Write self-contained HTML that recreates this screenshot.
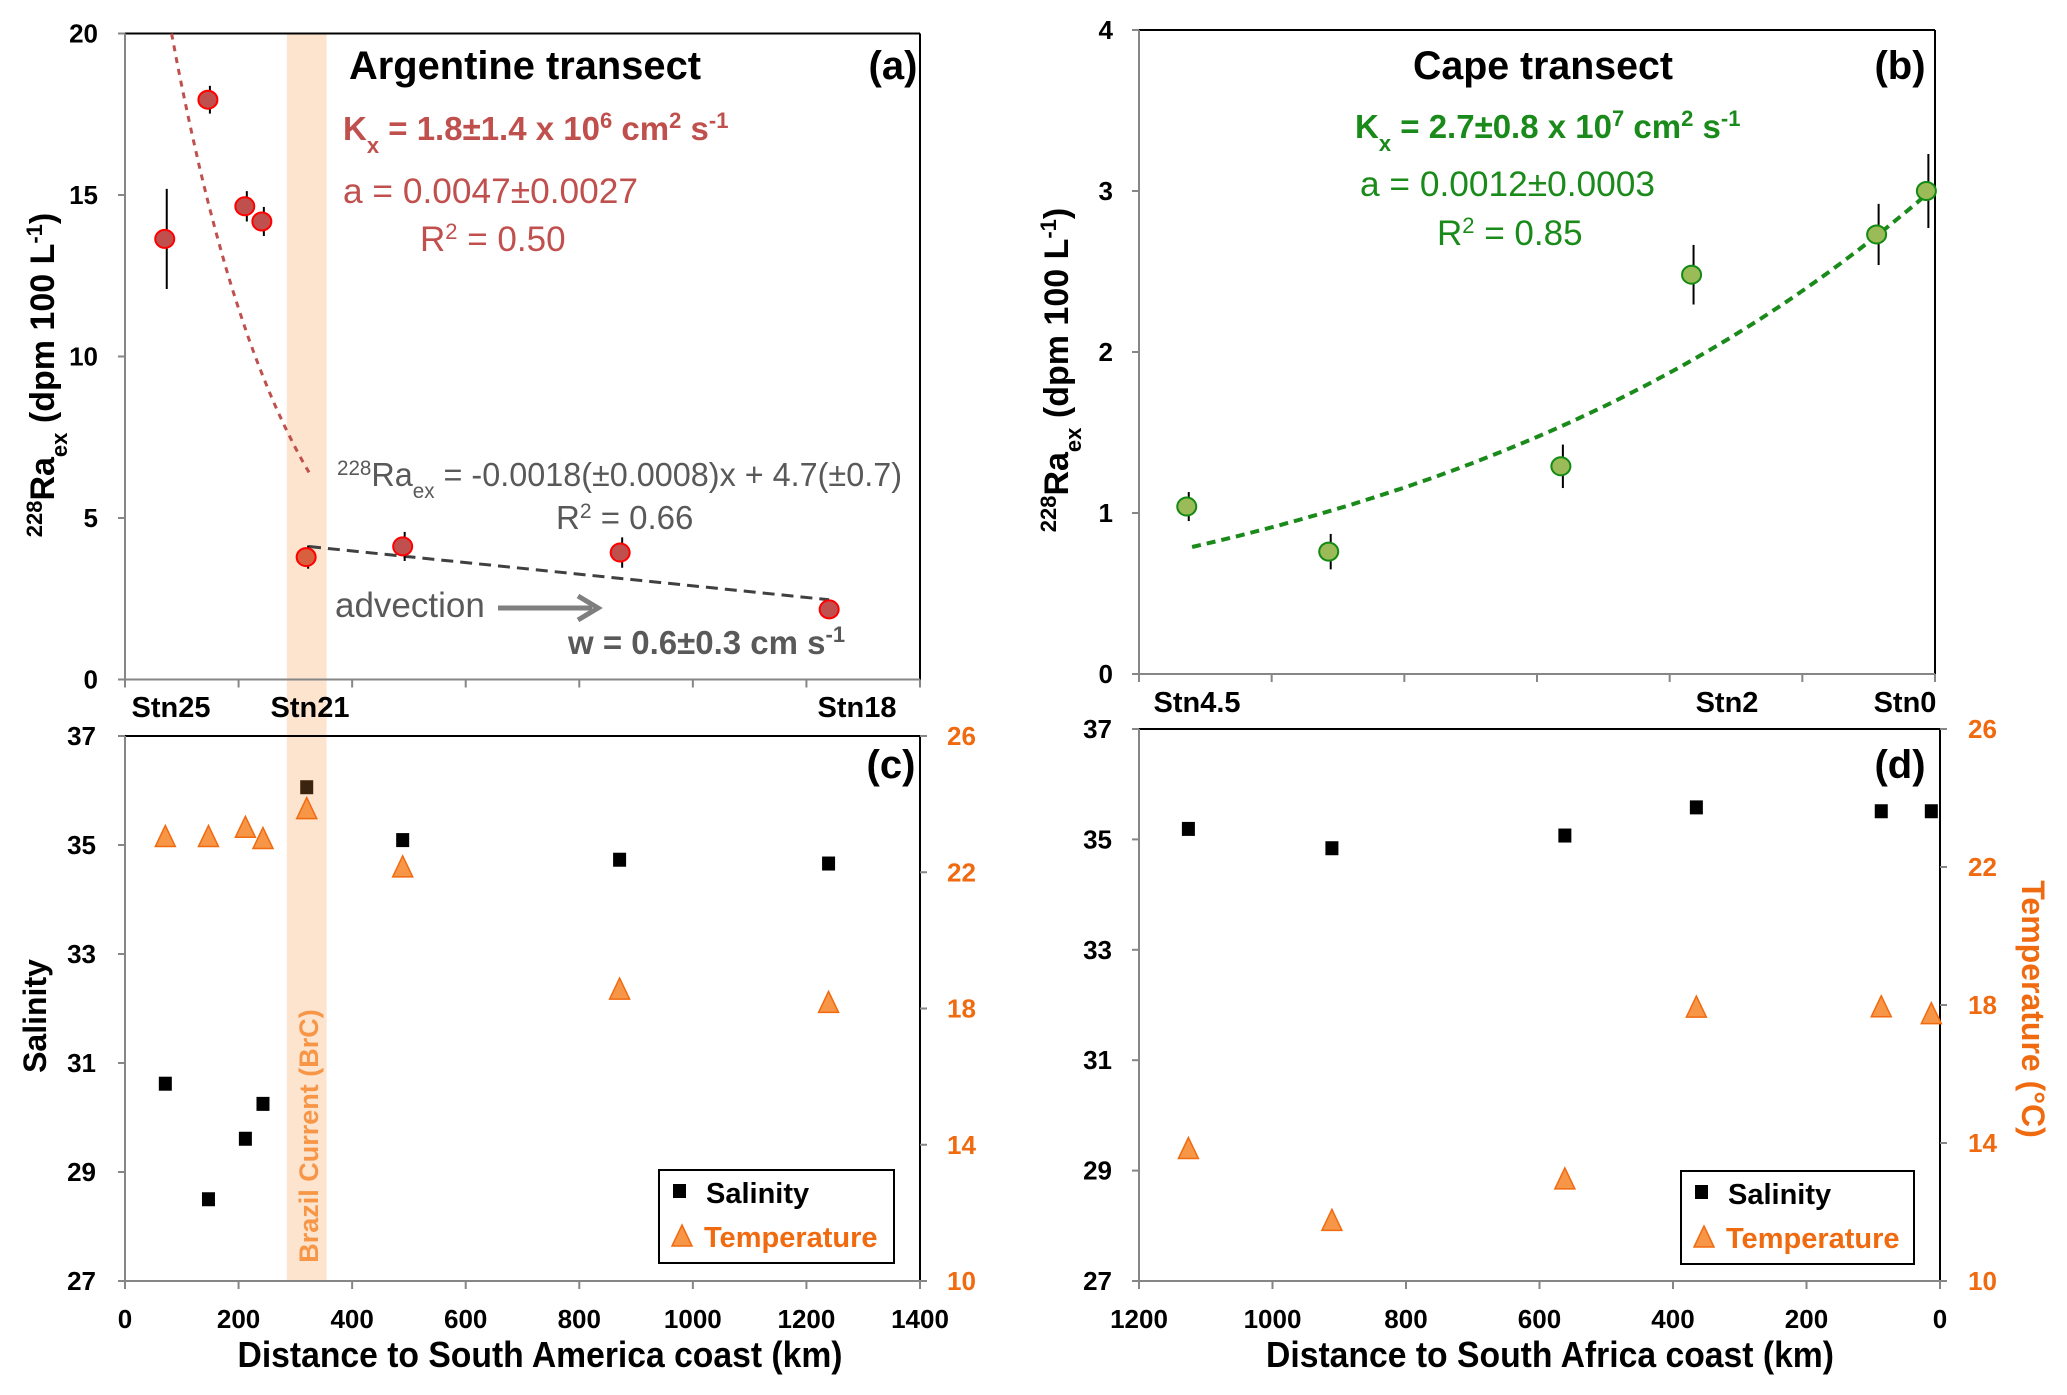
<!DOCTYPE html>
<html><head><meta charset="utf-8"><style>
body{margin:0;background:#fff}
svg text{font-family:"Liberation Sans Narrow","Liberation Sans",sans-serif}
.tk{font-size:26px;font-weight:bold;fill:#000}
.bt{font-family:"Liberation Sans",sans-serif !important;font-weight:bold}
</style></head><body>
<svg id="fig" width="2067" height="1390" viewBox="0 0 2067 1390" xmlns="http://www.w3.org/2000/svg">
<g id="g"></g>
</svg>
<script>
// ---- data ----
const aDist=[70,146,211,241,319,489,872,1240];
const aRa=[13.64,17.95,14.65,14.18,3.79,4.12,3.93,2.17];
const aErr=[1.55,0.43,0.47,0.45,0.36,0.45,0.47,0.15];
const aExpFit=[29.4,0.0047,82,324]; // A, a, xStart, xEnd
const aLinFit=[-0.0018,4.7,324,1240]; // slope, intercept, xStart, xEnd
const bDist=[1128,914,564,367,88,13];
const bRa=[1.04,0.76,1.29,2.48,2.73,3.00];
const bErr=[0.09,0.11,0.135,0.185,0.19,0.23];
const bExpFit=[3.025,0.0012,1120,7];
const cDist=[71,147,212,243,320,489,871,1239];
const cSal=[30.62,28.5,29.61,30.25,36.06,35.09,34.73,34.66];
const cTemp=[23.02,23.02,23.29,22.96,23.84,22.13,18.54,18.15];
const dDist=[1126,911,562,365,88,13];
const dSal=[35.19,34.84,35.07,35.58,35.51,35.51];
const dTemp=[13.81,11.73,12.93,17.91,17.92,17.72];
const raTicksA=[0,5,10,15,20];
const raTicksB=[0,1,2,3,4];
const salTicks=[27,29,31,33,35,37];
const tempTicks=[10,14,18,22,26];
const distTicksC=[0,200,400,600,800,1000,1200,1400];
const distTicksD=[1200,1000,800,600,400,200,0];

// ---- axes ----
const xa=k=>125+k/1400*795, ya=v=>679.5-v/20*646;
const xc=k=>125+k/1400*795, ysc=s=>1281-(s-27)/10*545, ytc=t=>1281-(t-10)/16*545;
const xb=k=>1935-k/1200*796, yb=v=>674-v/4*644;
const xd=k=>1940-k/1200*801, ysd=s=>1281-(s-27)/10*552, ytd=t=>1281-(t-10)/16*552;

const NS="http://www.w3.org/2000/svg";
const G=document.getElementById('g');
function el(tag,at,parent){const e=document.createElementNS(NS,tag);for(const k in at)e.setAttribute(k,at[k]);(parent||G).appendChild(e);return e;}
function txt(s,at,parent){const e=el('text',at,parent);e.innerHTML=s;return e;}

let band=el('rect',{x:xa(285),y:33,width:xa(355)-xa(285),height:1281-33,fill:'#fde4cf'});



function frame(l,t,r,b,name){
  let f=el('g',{});
  
  
  el('line',{x1:l,y1:t,x2:r,y2:t,stroke:'#000','stroke-width':2},f);
  el('line',{x1:r,y1:t,x2:r,y2:b,stroke:'#000','stroke-width':2},f);
  el('line',{x1:l,y1:t,x2:l,y2:b,stroke:'#868686','stroke-width':2},f);
  el('line',{x1:l,y1:b,x2:r,y2:b,stroke:'#868686','stroke-width':2},f);
}
frame(125,33.5,920,679.5,'panel-a-frame');
frame(1139,30,1935,674,'panel-b-frame');
frame(125,736,920,1281,'panel-c-frame');
frame(1139,729,1940,1281,'panel-d-frame');

function yTicks(vals,fy,xAxis,xLab,anchor,color,name,side){
  let g=el('g',{});
  
  
  vals.forEach(v=>{
    el('line',{x1:xAxis,y1:fy(v),x2:xAxis+(side<0?-7:7),y2:fy(v),stroke:'#868686','stroke-width':2},g);
    txt(String(v),{x:xLab,y:fy(v)+9,'text-anchor':anchor,class:'tk',style:'fill:'+color},g);
  });
}
yTicks(raTicksA,ya,125,98,'end','#000','y-ticks-a',-1);
yTicks(raTicksB,yb,1139,1113,'end','#000','y-ticks-b',-1);
yTicks(salTicks,ysc,125,96,'end','#000','salinity-ticks-c',-1);
yTicks(tempTicks,ytc,920,947,'start','#f06a10','temperature-ticks-c',1);
yTicks(salTicks,ysd,1139,1112,'end','#000','salinity-ticks-d',-1);
yTicks(tempTicks,ytd,1940,1968,'start','#f06a10','temperature-ticks-d',1);

function xTicks(vals,fx,yAxis,labels,name){
  let g=el('g',{});
  
  
  vals.forEach(v=>{
    el('line',{x1:fx(v),y1:yAxis,x2:fx(v),y2:yAxis+8,stroke:'#868686','stroke-width':2},g);
    if(labels) txt(String(v),{x:fx(v),y:yAxis+47,'text-anchor':'middle',class:'tk'},g);
  });
}
xTicks(distTicksC,xa,679.5,false,'x-ticks-a');
xTicks(distTicksD,xb,674,false,'x-ticks-b');
xTicks(distTicksC,xc,1281,true,'x-ticks-c');
xTicks(distTicksD,xd,1281,true,'x-ticks-d');

[['Stn25',171,706],['Stn21',310,706],['Stn18',857,706],['Stn4.5',1197,701],['Stn2',1727,701],['Stn0',1905,701]].forEach(s=>{
  let t=txt(s[0],{x:s[1],y:s[2]+11,'text-anchor':'middle',class:'tk',style:'font-size:29px'});
  
  
});

function expPath(p,fx,fy){let d='';const n=60;for(let i=0;i<=n;i++){const k=p[2]+(p[3]-p[2])*i/n;const v=p[0]*Math.exp(-p[1]*k);d+=(i?'L':'M')+fx(k).toFixed(1)+' '+fy(v).toFixed(1);}return d;}
let fa=el('path',{d:expPath(aExpFit,xa,ya),fill:'none',stroke:'#c0504d','stroke-width':3,'stroke-dasharray':'6 6'});


let la=el('line',{x1:xa(aLinFit[2]),y1:ya(aLinFit[1]+aLinFit[0]*aLinFit[2]),x2:xa(aLinFit[3]),y2:ya(aLinFit[1]+aLinFit[0]*aLinFit[3]),stroke:'#404040','stroke-width':3,'stroke-dasharray':'12 7'});


let fb=el('path',{d:expPath(bExpFit,xb,yb),fill:'none',stroke:'#1a8a1a','stroke-width':4,'stroke-dasharray':'9 6'});



aDist.forEach((k,i)=>{
  let g=el('g',{});
  
  
  el('line',{x1:xa(k)+2,y1:ya(aRa[i]+aErr[i]),x2:xa(k)+2,y2:ya(aRa[i]-aErr[i]),stroke:'#000','stroke-width':2},g);
  el('ellipse',{cx:xa(k),cy:ya(aRa[i]),rx:9.5,ry:9,fill:i==4?'#d8603f':'#c0504d',stroke:'#ff0000','stroke-width':2},g);
});
bDist.forEach((k,i)=>{
  let g=el('g',{});
  
  
  el('line',{x1:xb(k)+2,y1:yb(bRa[i]+bErr[i]),x2:xb(k)+2,y2:yb(bRa[i]-bErr[i]),stroke:'#000','stroke-width':2},g);
  el('ellipse',{cx:xb(k),cy:yb(bRa[i]),rx:9.5,ry:9,fill:'#9bbb59',stroke:'#138a13','stroke-width':2},g);
});
function sq(x,y,name,c){let r=el('rect',{x:x-6.5,y:y-7,width:13,height:14,fill:c||'#000'});}
function tri(x,y,name){let p=el('path',{d:`M${x} ${y-12}L${x+10} ${y+9}L${x-10} ${y+9}Z`,fill:'#f79646',stroke:'#f06a10','stroke-width':1.5});}
cDist.forEach((k,i)=>sq(xc(k),ysc(cSal[i]),'salinity-point-c',i==4?'#3a2410':'#000'));
cDist.forEach((k,i)=>tri(xc(k),ytc(cTemp[i]),'temperature-point-c'));
dDist.forEach((k,i)=>sq(xd(k),ysd(dSal[i]),'salinity-point-d'));
dDist.forEach((k,i)=>tri(xd(k),ytd(dTemp[i]),'temperature-point-d'));

function legend(x1,y1,x2,y2,name){
  let g=el('g',{});
  
  
  el('rect',{x:x1,y:y1,width:x2-x1,height:y2-y1,fill:'#fff',stroke:'#000','stroke-width':2},g);
  el('rect',{x:x1+14,y:y1+14,width:13,height:14,fill:'#000'},g);
  txt('Salinity',{x:x1+47,y:y1+33,style:'font-size:29px;font-weight:bold;fill:#000'},g);
  el('path',{d:`M${x1+23} ${y1+55}L${x1+33} ${y1+76}L${x1+13} ${y1+76}Z`,fill:'#f79646',stroke:'#f06a10','stroke-width':1.5},g);
  txt('Temperature',{x:x1+45,y:y1+77,style:'font-size:29px;font-weight:bold;fill:#f06a10'},g);
}
legend(659,1170,894,1263,'legend-c');
legend(1681,1171,1914,1264,'legend-d');

function lab(s,at,name){let t=txt(s,at);return t;}
lab('Argentine transect',{x:525,y:79,'text-anchor':'middle',style:'font-size:40px;font-weight:bold',textLength:352,lengthAdjust:'spacingAndGlyphs'},'title-a');
lab('(a)',{x:893,y:79,'text-anchor':'middle',style:'font-size:40px;font-weight:bold'},'panel-label-a');
lab('K<tspan baseline-shift="sub" font-size="22">x</tspan> = 1.8±1.4 x 10<tspan baseline-shift="super" font-size="22">6</tspan> cm<tspan baseline-shift="super" font-size="22">2</tspan> s<tspan baseline-shift="super" font-size="22">-1</tspan>',{x:343,y:140,style:'font-size:33px;font-weight:bold;fill:#c0504d'},'kx-a');
lab('a = 0.0047±0.0027',{x:343,y:203,style:'font-size:35px;fill:#c0504d',textLength:295,lengthAdjust:'spacingAndGlyphs'},'a-value-a');
lab('R<tspan baseline-shift="super" font-size="22">2</tspan> = 0.50',{x:420,y:251,style:'font-size:35px;fill:#c0504d'},'r2-a');
lab('<tspan baseline-shift="super" font-size="21">228</tspan>Ra<tspan baseline-shift="sub" font-size="21">ex</tspan> = -0.0018(±0.0008)x + 4.7(±0.7)',{x:337,y:486,style:'font-size:33px;fill:#595959',textLength:565,lengthAdjust:'spacingAndGlyphs'},'linear-equation-a');
lab('R<tspan baseline-shift="super" font-size="21">2</tspan> = 0.66',{x:556,y:529,style:'font-size:33px;fill:#595959'},'r2-linear-a');
lab('advection',{x:335,y:617,style:'font-size:35px;fill:#595959'},'advection-label');
let ar=el('g',{});
el('line',{x1:498,y1:608,x2:592,y2:608,stroke:'#7f7f7f','stroke-width':5},ar);
el('path',{d:'M578 596L598 608L578 620',fill:'none',stroke:'#7f7f7f','stroke-width':5},ar);
lab('w = 0.6±0.3 cm s<tspan baseline-shift="super" font-size="22">-1</tspan>',{x:568,y:654,style:'font-size:33px;font-weight:bold;fill:#595959'},'w-value-a');

lab('Cape transect',{x:1543,y:79,'text-anchor':'middle',style:'font-size:40px;font-weight:bold',textLength:260,lengthAdjust:'spacingAndGlyphs'},'title-b');
lab('(b)',{x:1900,y:79,'text-anchor':'middle',style:'font-size:40px;font-weight:bold'},'panel-label-b');
lab('K<tspan baseline-shift="sub" font-size="22">x</tspan> = 2.7±0.8 x 10<tspan baseline-shift="super" font-size="22">7</tspan> cm<tspan baseline-shift="super" font-size="22">2</tspan> s<tspan baseline-shift="super" font-size="22">-1</tspan>',{x:1355,y:138,style:'font-size:33px;font-weight:bold;fill:#1a8a1a'},'kx-b');
lab('a = 0.0012±0.0003',{x:1360,y:196,style:'font-size:35px;fill:#1a8a1a',textLength:295,lengthAdjust:'spacingAndGlyphs'},'a-value-b');
lab('R<tspan baseline-shift="super" font-size="22">2</tspan> = 0.85',{x:1437,y:245,style:'font-size:35px;fill:#1a8a1a'},'r2-b');

lab('(c)',{x:891,y:778,'text-anchor':'middle',style:'font-size:40px;font-weight:bold'},'panel-label-c');
lab('(d)',{x:1900,y:778,'text-anchor':'middle',style:'font-size:40px;font-weight:bold'},'panel-label-d');

lab('Brazil Current (BrC)',{x:0,y:0,transform:'translate(318,1136) rotate(-90)','text-anchor':'middle',class:'bt',style:'font-size:27px;fill:#f79646'},'brazil-current-label');

lab('<tspan baseline-shift="super" font-size="22">228</tspan>Ra<tspan baseline-shift="sub" font-size="22">ex</tspan> (dpm 100 L<tspan baseline-shift="super" font-size="22">-1</tspan>)',{x:0,y:0,transform:'translate(54,375) rotate(-90)','text-anchor':'middle',class:'bt',style:'font-size:34px'},'y-axis-title-a');
lab('<tspan baseline-shift="super" font-size="22">228</tspan>Ra<tspan baseline-shift="sub" font-size="22">ex</tspan> (dpm 100 L<tspan baseline-shift="super" font-size="22">-1</tspan>)',{x:0,y:0,transform:'translate(1068,370) rotate(-90)','text-anchor':'middle',class:'bt',style:'font-size:34px'},'y-axis-title-b');
lab('Salinity',{x:0,y:0,transform:'translate(46,1016) rotate(-90)','text-anchor':'middle',class:'bt',style:'font-size:32px'},'salinity-axis-title');
lab('Temperature (°C)',{x:0,y:0,transform:'translate(2022,1009) rotate(90)','text-anchor':'middle',class:'bt',style:'font-size:32px;fill:#f06a10'},'temperature-axis-title');
lab('Distance to South America coast (km)',{x:540,y:1367,'text-anchor':'middle',style:'font-size:36px;font-weight:bold',textLength:605,lengthAdjust:'spacingAndGlyphs'},'x-axis-title-c');
lab('Distance to South Africa coast (km)',{x:1550,y:1367,'text-anchor':'middle',style:'font-size:36px;font-weight:bold',textLength:568,lengthAdjust:'spacingAndGlyphs'},'x-axis-title-d');
</script>
</body></html>
